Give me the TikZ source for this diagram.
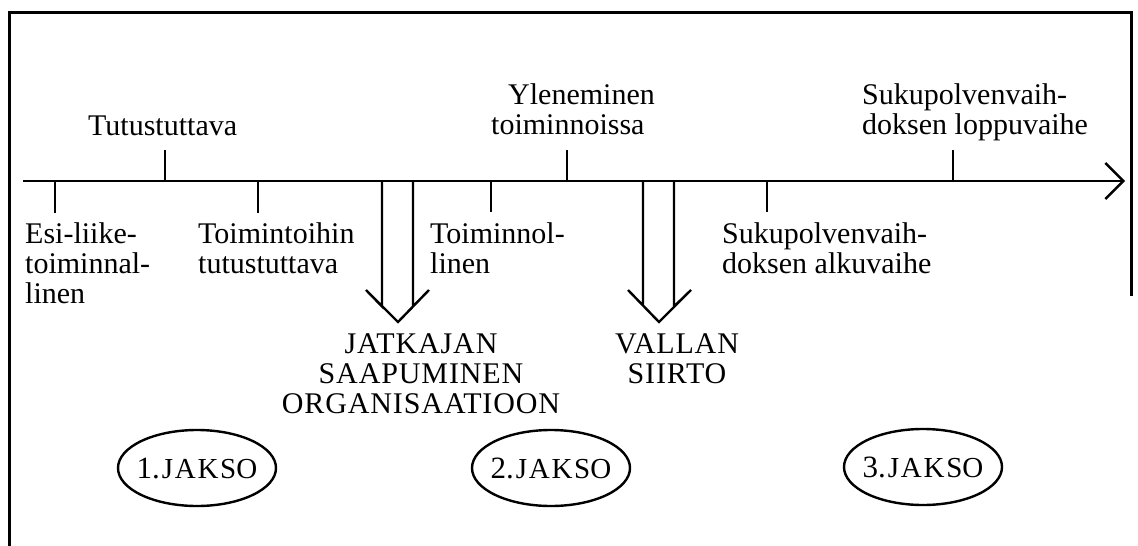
\documentclass[tikz,border=0pt]{standalone}
\usepackage{fontspec}
\setmainfont{Liberation Serif}
\usetikzlibrary{arrows.meta,shapes.geometric}
\newcommand\lblfont{\fontsize{30}{30}\selectfont}
\newcommand\capsfont{\fontsize{30}{30}\selectfont\addfontfeatures{LetterSpace=3}}
% period label: numeral, then slightly spaced capitals
\newcommand\periodlabel[1]{{\fontsize{31}{31}\selectfont #1.}\kern2pt{\fontsize{29}{29}\selectfont\addfontfeatures{LetterSpace=6}JAKS}{\fontsize{29}{29}\selectfont O}}

\begin{document}
\begin{tikzpicture}[x=1pt,y=-1pt,
  frame/.style={line width=3pt},
  axisline/.style={line width=2.6pt},
  tick/.style={line width=2.4pt},
  bigarrow/.style={line width=2.4pt,line join=miter},
  lbl/.style={anchor=north west,inner sep=0pt,align=left,font=\lblfont},
  clbl/.style={anchor=north,inner sep=0pt,align=center,font=\capsfont},
  period/.style={ellipse,draw,line width=2.4pt,minimum width=158pt,minimum height=76pt,inner xsep=-20pt,inner ysep=0pt}]

\useasboundingbox (0,0) rectangle (1138,546);

% outer frame (open at the bottom, right side only partly drawn)
\draw[frame] (9,546) -- (9,12) -- (1131,12) -- (1131,296);

% time axis
\coordinate (axstart) at (23,181);
\coordinate (axend) at (1125,181);
\draw[axisline,-{Straight Barb[length=18pt,width=36pt,line width=2.4pt]}] (axstart) -- (axend);

% ticks on the axis
\coordinate (t1) at (55,181);  \coordinate (t1e) at (55,213);
\coordinate (t2) at (165,181); \coordinate (t2e) at (165,150);
\coordinate (t3) at (258,181); \coordinate (t3e) at (258,213);
\coordinate (t4) at (491,181); \coordinate (t4e) at (491,212);
\coordinate (t5) at (567,181); \coordinate (t5e) at (567,150);
\coordinate (t6) at (767,181); \coordinate (t6e) at (767,212);
\coordinate (t7) at (953,181); \coordinate (t7e) at (953,150);
\foreach \t in {t1,t2,t3,t4,t5,t6,t7}
  \draw[tick] (\t) -- (\t e);

% hollow downward arrows
\draw[bigarrow] (382,181) -- (382,306.5) -- (366,290) -- (398,322) -- (429,290) -- (413,306.5) -- (413,181);
\draw[bigarrow] (643,181) -- (643,305.5) -- (628,290) -- (659,322) -- (691,290) -- (674,306.5) -- (674,181);

% phase labels
\node[lbl,anchor=base west] (tut) at (88,135) {Tutustuttava};
\node[lbl] (esi) at (25,222) {\strut Esi-liike-\\toiminnal-\\linen};
\node[lbl] (toimt) at (198,222) {\strut Toimintoihin\\tutustuttava};
\node[lbl] (toimn) at (430,222) {\strut Toiminnol-\\linen};
\node[lbl] (ylen) at (491,83) {\strut\hspace{17pt}Yleneminen\\toiminnoissa};
\node[lbl] (alku) at (722,222) {\strut Sukupolvenvaih-\\doksen alkuvaihe};
\node[lbl] (loppu) at (862,83) {\strut Sukupolvenvaih-\\doksen loppuvaihe};

% events
\node[clbl] (jatk) at (421,332) {\strut JATKAJAN\\SAAPUMINEN\\ORGANISAATIOON};
\node[clbl] (vall) at (677,332) {\strut VALLAN\\SIIRTO};

% periods
\node[period] (j1) at (197,468) {\periodlabel{1}};
\node[period] (j2) at (551,468) {\periodlabel{2}};
\node[period] (j3) at (923,467) {\periodlabel{3}};
\end{tikzpicture}
\end{document}
